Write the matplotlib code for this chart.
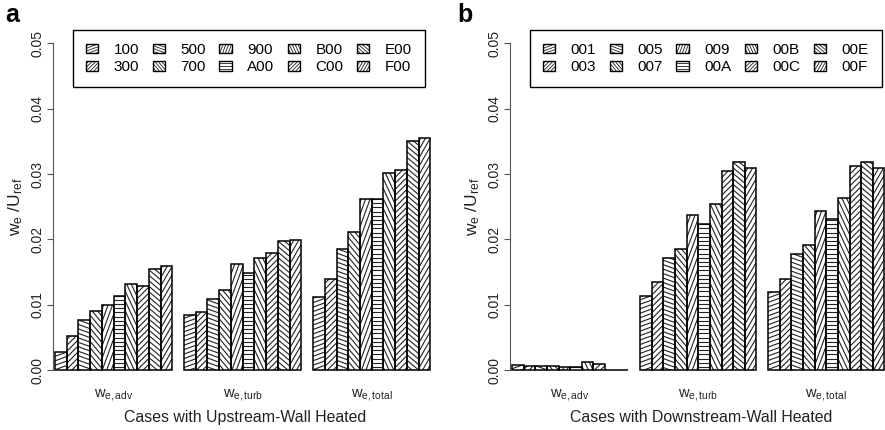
import numpy as np
import matplotlib
matplotlib.use('Agg')
import matplotlib.pyplot as plt
from matplotlib.patches import Rectangle, Patch
from matplotlib.collections import LineCollection

plt.rcParams['font.family'] = ['Liberation Sans', 'DejaVu Sans']
plt.rcParams['mathtext.fontset'] = 'custom'
plt.rcParams['mathtext.rm'] = 'Liberation Sans'
plt.rcParams['mathtext.it'] = 'Liberation Sans:italic'
plt.rcParams['mathtext.bf'] = 'Liberation Sans:bold'

# entrainment velocity components
groups = [r'$\mathregular{w_{e,adv}}$', r'$\mathregular{w_{e,turb}}$', r'$\mathregular{w_{e,total}}$']
cases_up = ['100', '300', '500', '700', '900', 'A00', 'B00', 'C00', 'E00', 'F00']
cases_down = ['001', '003', '005', '007', '009', '00A', '00B', '00C', '00E', '00F']

# hatch angle (deg) for each case
angles = [20, 45, -20, -50, 70, 0, -65, 45, -40, 60]

up_adv = [0.0028, 0.0052, 0.0076, 0.0090, 0.0100, 0.0114, 0.0131, 0.0129, 0.0154, 0.0159]
up_turb = [0.0084, 0.0089, 0.0108, 0.0122, 0.0163, 0.0148, 0.0172, 0.0179, 0.0197, 0.0199]
up_total = [0.0112, 0.0139, 0.0185, 0.0212, 0.0262, 0.0262, 0.0302, 0.0306, 0.0351, 0.0356]

down_adv = [0.0008, 0.0006, 0.0006, 0.0006, 0.0004, 0.0005, 0.0012, 0.0010, 0.0, 0.0]
down_turb = [0.0113, 0.0135, 0.0172, 0.0186, 0.0238, 0.0224, 0.0254, 0.0305, 0.0319, 0.0310]
down_total = [0.0120, 0.0140, 0.0177, 0.0192, 0.0243, 0.0231, 0.0264, 0.0313, 0.0318, 0.0310]

yticks = [0.00, 0.01, 0.02, 0.03, 0.04, 0.05]
W, H = 885, 430


def hatch_segments(x0, y0, x1, y1, angle, gap):
    # parallel lines at given angle covering the box (isotropic coords)
    a = np.radians(angle)
    d = np.array([np.cos(a), np.sin(a)])
    n = np.array([-np.sin(a), np.cos(a)])
    corners = np.array([[x0, y0], [x1, y0], [x0, y1], [x1, y1]])
    pn = corners @ n
    pdir = corners @ d
    segs = []
    for k in np.arange(np.floor(pn.min() / gap), np.ceil(pn.max() / gap) + 1):
        base = k * gap * n
        segs.append([base + pdir.min() * d, base + pdir.max() * d])
    return segs


class HatchBox:
    def __init__(self, angle):
        self.angle = angle

    def legend_artist(self, legend, orig_handle, fontsize, handlebox):
        x0, y0 = -handlebox.xdescent, -handlebox.ydescent
        w, h = handlebox.width, handlebox.height
        tr = handlebox.get_transform()
        box = Rectangle((x0, y0), w, h, facecolor='none', edgecolor='black', lw=1.0, transform=tr)
        lc = LineCollection(hatch_segments(x0, y0, x0 + w, y0 + h, self.angle, 1.9),
                            colors='#222222', linewidths=0.6, transform=tr)
        lc.set_clip_path(box)
        handlebox.add_artist(lc)
        handlebox.add_artist(box)
        return box


fig = plt.figure(figsize=(W / 100, H / 100), dpi=100)


def panel(left_px, scale, adv, turb, total, cases, title, letter, letter_x):
    x0 = -2.0 / scale
    x1 = 32.6
    width_px = (x1 - x0) * scale
    ax = fig.add_axes([left_px / W, (H - 383.1) / H, width_px / W, 352.7 / H])
    vals = np.array([adv, turb, total])
    bars_all = []
    for i in range(10):
        xs = [11 * g + i for g in range(3)]
        bars = ax.bar(xs, vals[:, i], width=1, align='edge', facecolor='none',
                      edgecolor='black', linewidth=1.1, zorder=3)
        bars_all.append(bars)
    ax.set_xlim(x0, x1)
    ax.set_ylim(-0.002, 0.052)

    inv = ax.transData.inverted()
    for i, bars in enumerate(bars_all):
        for b in bars:
            (X0, Y0), (X1, Y1) = ax.transData.transform(
                [(b.get_x(), 0), (b.get_x() + b.get_width(), b.get_height())])
            if Y1 - Y0 < 0.5:
                continue
            segs = [inv.transform(s) for s in hatch_segments(X0, Y0, X1, Y1, angles[i], 4.2)]
            lc = LineCollection(segs, colors='#222222', linewidths=0.8, zorder=2)
            ax.add_collection(lc, autolim=False)
            lc.set_clip_path(b)

    for s in ['top', 'right', 'bottom']:
        ax.spines[s].set_visible(False)
    ax.spines['left'].set_bounds(0, 0.05)
    ax.spines['left'].set_color('#555555')
    ax.set_yticks(yticks, labels=['%.2f' % t for t in yticks])
    ax.tick_params(axis='y', length=4, width=0.8, color='#555555', pad=2, labelsize=10,
                   labelcolor='#222222')
    for t in ax.get_yticklabels():
        t.set_rotation(90)
        t.set_va('center')
    ax.set_xticks([5, 16, 27], labels=groups)
    ax.tick_params(axis='x', length=0, pad=3, labelsize=10.5, labelcolor='#222222')
    ax.set_xlabel(title, fontsize=11.4, labelpad=5, color='#222222')
    ax.set_ylabel(r'$\mathregular{w_e}$ /$\mathregular{U_{ref}}$', fontsize=12.5, color='#222222')
    ax.yaxis.set_label_coords(-28.0 / width_px, 0.5)

    handles = [Patch(label=c) for c in cases]
    hmap = {h: HatchBox(a) for h, a in zip(handles, angles)}
    fig.legend(handles=handles, handler_map=hmap, ncol=5, loc='upper left',
               bbox_to_anchor=((left_px + 20) / W, 1 - 30 / H), bbox_transform=fig.transFigure,
               borderaxespad=0, borderpad=0.85, fontsize=11, handlelength=0.8, handleheight=0.6,
               handletextpad=1.0, columnspacing=0.9, labelspacing=0.22, fancybox=False,
               edgecolor='black', framealpha=1)
    fig.text(letter_x / W, 1 - 3 / H, letter, fontsize=18, fontweight='bold', va='top', ha='left')
    return ax


ax1 = panel(53, 11.73, up_adv, up_turb, up_total, cases_up,
            'Cases with Upstream-Wall Heated', 'a', 5)
ax2 = panel(510, 11.64, down_adv, down_turb, down_total, cases_down,
            'Cases with Downstream-Wall Heated', 'b', 457)

fig.savefig('out.png', dpi=100)
